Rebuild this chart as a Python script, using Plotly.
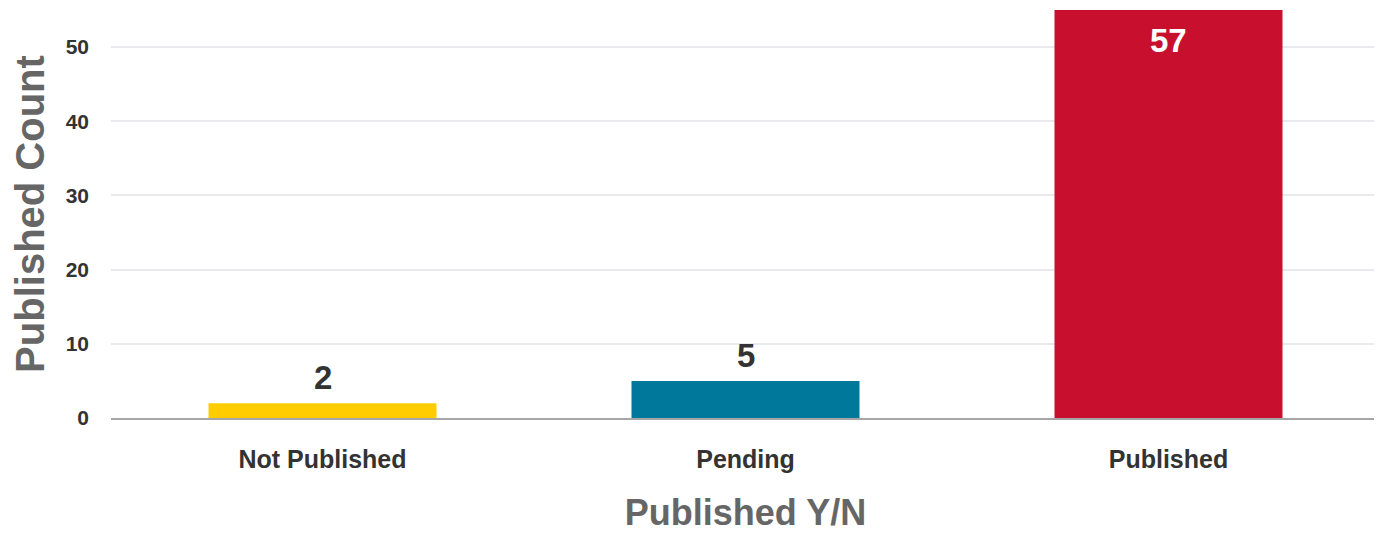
import plotly.graph_objects as go

categories = ["Not Published", "Pending", "Published"]
counts = [2, 5, 57]
colors = ["#FFCC00", "#00789C", "#C8102E"]
y_ticks = [0, 10, 20, 30, 40, 50]
y_range = [0, 55]

FONT = "Liberation Sans, Arial, sans-serif"

fig = go.Figure(go.Bar(
    x=categories,
    y=counts,
    marker=dict(color=colors, line=dict(width=0)),
    width=0.539,
    hoverinfo="x+y",
))

# value labels: above the bar when it fits, inside the (clipped) top otherwise
for cat, v in zip(categories, counts):
    if v <= y_range[1]:
        fig.add_annotation(
            x=cat, y=v, xref="x", yref="y",
            text=str(v), showarrow=False,
            yanchor="bottom", yshift=5,
            font=dict(family=FONT, size=33, color="#333333", weight="bold"),
        )
    else:
        fig.add_annotation(
            x=cat, y=1, xref="x", yref="y domain",
            text=str(v), showarrow=False,
            yanchor="top", yshift=-10,
            font=dict(family=FONT, size=33, color="#FFFFFF", weight="bold"),
        )

fig.update_layout(
    width=1374,
    height=525,
    margin=dict(l=103, r=2, t=2, b=115),
    paper_bgcolor="white",
    plot_bgcolor="white",
    showlegend=False,
    font=dict(family=FONT, color="#333333"),
    xaxis=dict(
        title=dict(text="Published Y/N", font=dict(family=FONT, size=36, color="#666666", weight="bold"), standoff=30),
        tickfont=dict(family=FONT, size=25, color="#333333", weight="bold"),
        ticklabelstandoff=18,
        showgrid=False,
        showline=True,
        linecolor="#A6A6A6",
        linewidth=2,
        ticks="",
        automargin=False,
    ),
    yaxis=dict(
        title=dict(text="Published Count", font=dict(family=FONT, size=40, color="#666666", weight="bold"), standoff=19),
        range=y_range,
        tickvals=y_ticks,
        tickfont=dict(family=FONT, size=21, color="#333333", weight="bold"),
        ticklabelstandoff=21,
        showgrid=True,
        gridcolor="#E8EAEE",
        gridwidth=2,
        zeroline=False,
        showline=False,
        ticks="",
        automargin=False,
    ),
)

fig.write_html("out.html")
